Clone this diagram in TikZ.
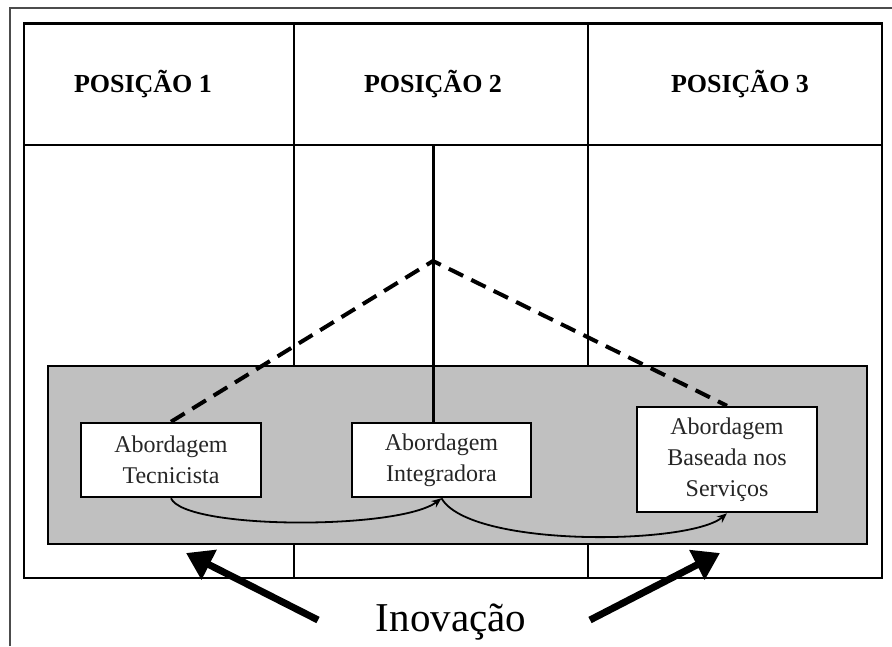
\documentclass[tikz,border=0pt]{standalone}
\usepackage{fontspec}
\setmainfont{Liberation Serif}
\usetikzlibrary{arrows.meta}
\begin{document}
\begin{tikzpicture}[x=1pt,y=-1pt,
  tline/.style={line width=2pt},
  apbox/.style={draw,line width=2.5pt,fill=white,align=center,font=\fontsize{24}{31}\selectfont,text=black!85,inner sep=0pt},
  head/.style={font=\bfseries\fontsize{26}{30}\selectfont},
  dashln/.style={line width=4pt,dash pattern=on 16pt off 9pt},
  curvearr/.style={line width=1.8pt,-{Stealth[length=10pt,width=8pt]}},
  bigarrow/.style={line width=7pt,-{Triangle[length=26pt,width=32pt]}}]
\useasboundingbox (0,0) rectangle (892,646);
\fill[white] (0,0) rectangle (892,646);
% outer frame
\draw[line width=1.5pt,black!70] (10,646) -- (10,8) -- (892,8);
% table
\draw[tline] (24,23) rectangle (882,578);
\draw[line width=3pt] (24,23) -- (882,23);
\draw[tline] (24,145) -- (882,145);
\draw[tline] (294,23) -- (294,578);
\draw[tline] (588,23) -- (588,578);
% header texts
\node[head] (p1) at (143,84) {POSIÇÃO 1};
\node[head] (p2) at (433,84) {POSIÇÃO 2};
\node[head] (p3) at (740,84) {POSIÇÃO 3};
% gray band
\draw[line width=2.5pt,fill={rgb,255:red,192;green,192;blue,192}] (48,366) rectangle (867,544);
% boxes
\node[apbox,minimum width=180pt,minimum height=74pt] (tec) at (171,460) {Abordagem\\Tecnicista};
\node[apbox,minimum width=179pt,minimum height=74pt] (int) at (441.5,460) {Abordagem\\Integradora};
\node[apbox,minimum width=180pt,minimum height=105pt] (ser) at (727,459.5) {Abordagem\\Baseada nos\\Serviços};
% lines from center
\coordinate (top) at (433,145);
\coordinate (apex) at (433,261);
\draw[line width=3pt] (top) -- (top |- int.north);
\draw[dashln] (tec.north) -- (apex) -- (ser.north);
% curved arrows
\draw[curvearr] (tec.south) .. controls (185,530) and (400,530) .. (int.south);
\draw[curvearr] (int.south) .. controls (470,548) and (690,545) .. (ser.south);
% innovation
\node[font=\fontsize{41}{44}\selectfont] (inov) at (451,622) {Inovação};
\coordinate (lt) at (318,620);
\coordinate (lh) at (186,553);
\coordinate (rt) at (590,620);
\coordinate (rh) at (720,553);
\draw[bigarrow] (lt) -- (lh);
\draw[bigarrow] (rt) -- (rh);
\end{tikzpicture}
\end{document}
